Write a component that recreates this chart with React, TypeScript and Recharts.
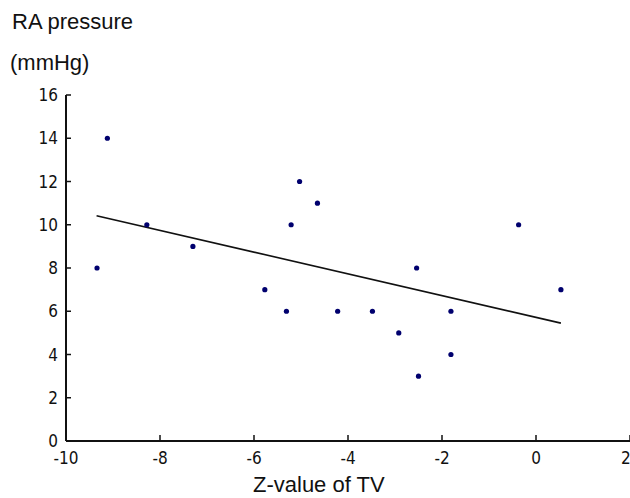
import {
  ScatterChart,
  Scatter,
  XAxis,
  YAxis,
  ZAxis,
  ReferenceLine,
} from 'recharts';

// Z-value of tricuspid valve vs right atrial pressure
const zValues = [-9.34, -9.12, -8.28, -7.3, -5.77, -5.31, -5.21, -5.03, -4.65, -4.22, -3.48, -2.92, -2.54, -2.5, -1.81, -1.81, -0.37, 0.53];
const raPressure = [8, 14, 10, 9, 7, 6, 10, 12, 11, 6, 6, 5, 8, 3, 6, 4, 10, 7];

// fitted regression line end points
const trendX = [-9.35, 0.53];
const trendY = [10.42, 5.45];

const xTicks = [-10, -8, -6, -4, -2, 0, 2];
const yTicks = [0, 2, 4, 6, 8, 10, 12, 14, 16];

const points = zValues.map((z, i) => ({ z, ra: raPressure[i] }));

const tickFont = { fontFamily: '"Liberation Sans Narrow", "DejaVu Sans Condensed", sans-serif', fontSize: 17, fill: '#111' };
const titleFont = '"Liberation Sans", Arial, sans-serif';

const Dot = (props: any) => <circle cx={props.cx} cy={props.cy} r={2.6} fill="#00006e" />;

const App = () => {
  return (
    <div style={{ position: 'absolute', left: 0, top: 0, width: 630, height: 498, background: '#fff' }}>
      <ScatterChart width={630} height={498} margin={{ top: 95, right: 0, bottom: 27, left: 0 }}>
        <XAxis
          type="number"
          dataKey="z"
          domain={[-10, 2]}
          ticks={xTicks}
          height={30}
          stroke="#111"
          strokeWidth={2}
          tickSize={-6}
          tickMargin={17}
          tick={tickFont}
          tickLine={{ stroke: '#111', strokeWidth: 1.5 }}
        />
        <YAxis
          type="number"
          dataKey="ra"
          domain={[0, 16]}
          ticks={yTicks}
          width={66}
          stroke="#111"
          strokeWidth={2}
          tickSize={-5}
          tickMargin={13}
          tick={tickFont}
          tickLine={{ stroke: '#111', strokeWidth: 1.5 }}
        />
        <ZAxis range={[20, 20]} />
        <ReferenceLine
          segment={[
            { x: trendX[0], y: trendY[0] },
            { x: trendX[1], y: trendY[1] },
          ]}
          stroke="#111"
          strokeWidth={1.6}
          ifOverflow="visible"
        />
        <Scatter data={points} shape={Dot} isAnimationActive={false} />
      </ScatterChart>
      <svg width={630} height={498} style={{ position: 'absolute', left: 0, top: 0, pointerEvents: 'none' }}>
        <text x={12} y={29} fontFamily={titleFont} fontSize={22} fill="#111">RA pressure</text>
        <text x={10} y={70} fontFamily={titleFont} fontSize={22} fill="#111">(mmHg)</text>
        <text x={253} y={492} fontFamily={titleFont} fontSize={22} fill="#111">Z-value of TV</text>
      </svg>
    </div>
  );
};

export default App;
